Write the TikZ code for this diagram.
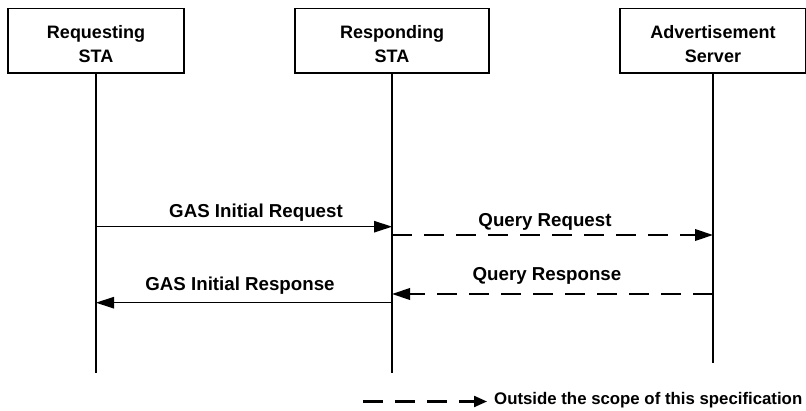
\documentclass[tikz,border=0pt]{standalone}
\usepackage{fontspec}
\setmainfont{Liberation Sans}
\usetikzlibrary{arrows.meta}

\tikzset{
  entity/.style={draw, line width=1.8pt, minimum height=64.5pt, inner sep=0pt,
    align=center, text height=42.7pt, font=\fontsize{18}{23.7}\selectfont\bfseries},
  lifeline/.style={line width=1.8pt},
  msg/.style={line width=1.3pt, -{Triangle[length=18pt,width=11.5pt]}},
  extmsg/.style={line width=2.2pt, dash pattern=on 20pt off 12pt,
    -{Triangle[length=18pt,width=11.5pt]}},
  msglabel/.style={anchor=base, inner sep=0pt, font=\fontsize{18.7}{20}\selectfont\bfseries},
}

\begin{document}
\begin{tikzpicture}[x=1pt,y=-1pt]
    \useasboundingbox (0,0) rectangle (806,410);

    % entities
    \node[entity, minimum width=176pt] (req) at (96,40.75) {Requesting\\STA};
    \node[entity, minimum width=194pt] (resp) at (392,40.75) {Responding\\STA};
    \node[entity, minimum width=186pt] (adv) at (713,40.75) {Advertisement\\Server};

    % lifelines
    \coordinate (reqEnd) at (96,372.7);
    \coordinate (respEnd) at (392,372.7);
    \coordinate (advEnd) at (713,363);
    \draw[lifeline] (req.south) -- (reqEnd);
    \draw[lifeline] (resp.south) -- (respEnd);
    \draw[lifeline] (adv.south) -- (advEnd);

    % message levels
    \coordinate (gasreq) at (0,226.7);
    \coordinate (qreq) at (0,235);
    \coordinate (qresp) at (0,294);
    \coordinate (gasresp) at (0,302.7);

    % messages
    \draw[msg] (req |- gasreq) -- (resp |- gasreq);
    \node[msglabel] (gasreqlbl) at (256,217.3) {GAS Initial Request};

    \draw[extmsg] (resp |- qreq) -- (adv |- qreq);
    \node[msglabel] (qreqlbl) at (545,226.7) {Query Request};

    \draw[extmsg] (adv |- qresp) -- (resp |- qresp);
    \node[msglabel] (qresplbl) at (547,280) {Query Response};

    \draw[msg] (resp |- gasresp) -- (req |- gasresp);
    \node[msglabel] (gasresplbl) at (240,290) {GAS Initial Response};

    % legend
    \coordinate (keyA) at (363,401.5);
    \coordinate (keyB) at (487,401.5);
    \draw[extmsg, -{Triangle[length=13pt,width=11pt]}] (keyA) -- (keyB);
    \node[msglabel, anchor=base west, font=\fontsize{16.8}{18}\selectfont\bfseries]
        (keytext) at (494,404) {Outside the scope of this specification};
\end{tikzpicture}
\end{document}
